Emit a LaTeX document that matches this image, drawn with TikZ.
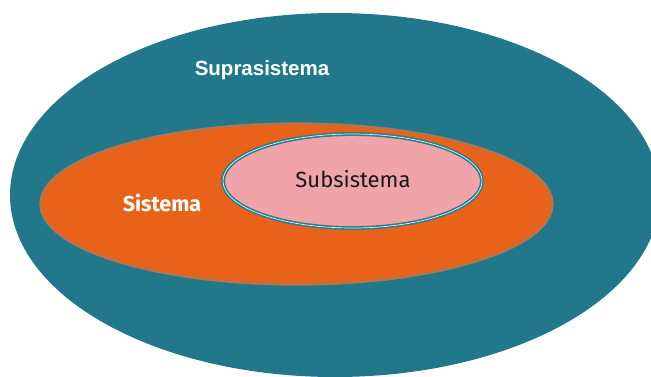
\documentclass[tikz,border=0pt]{standalone}
\usepackage{fontspec}
\setmainfont{Liberation Sans}
\newfontfamily\humanist{Fira Sans}
\usetikzlibrary{shapes.geometric}

\definecolor{supracol}{HTML}{21788B}
\definecolor{sistcol}{HTML}{E8621A}
\definecolor{sistedge}{HTML}{A8785E}
\definecolor{subcol}{HTML}{F0A3A8}
\definecolor{subedge}{HTML}{2B7F8F}

\tikzset{
  oval/.style={ellipse, inner sep=0pt, outer sep=0pt},
  label text/.style={anchor=base, inner sep=0pt}
}

\begin{document}
\begin{tikzpicture}[x=1pt, y=-1pt]
  \useasboundingbox (0,0) rectangle (651,376);

  % outer system, cut by the page edge
  \begin{scope}
    \clip (0,0) rectangle (651,376);
    \node[oval, fill=supracol, minimum width=650pt, minimum height=364pt] (supra) at (335,195) {};
  \end{scope}

  % system
  \node[oval, fill=sistcol, draw=sistedge, line width=0.9pt,
        double=sistcol!70!sistedge, double distance=0.5pt,
        minimum width=512pt, minimum height=161pt] (sist) at (296.5,204) {};

  % subsystem
  \node[oval, fill=subcol, draw=subedge, line width=1.6pt,
        double=white!85!subedge, double distance=0.7pt,
        minimum width=259pt, minimum height=94pt] (sub) at (352.5,181) {};

  % labels
  \node[label text, text=white, font=\bfseries\fontsize{20.5}{24}\selectfont] (tsupra) at (262,75) {Suprasistema};
  \node[label text, text=white, font=\humanist\bfseries\fontsize{21.5}{25}\selectfont] (tsist) at (162,211) {Sistema};
  \node[label text, text=black!90, font=\humanist\fontsize{22}{26}\selectfont] (tsub) at (353,187) {Subsistema};
\end{tikzpicture}
\end{document}
